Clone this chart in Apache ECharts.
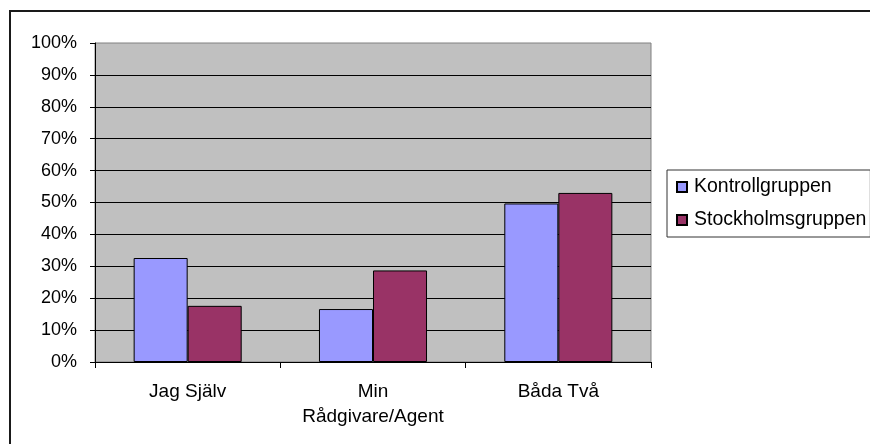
<!DOCTYPE html>
<html>
<head>
<meta charset="utf-8">
<script src="https://cdn.jsdelivr.net/npm/echarts@6/dist/echarts.min.js"></script>
<style>
  html, body { margin: 0; padding: 0; background: #ffffff; }
  #chart { width: 870px; height: 444px; }
</style>
</head>
<body>
<div id="chart"></div>
<script>
// Answer categories and share (%) per group
const categories = ['Jag Själv', 'Min\nRådgivare/Agent', 'Båda Två'];
const kontrollgruppen = [32.6, 16.6, 49.7];
const stockholmsgruppen = [17.6, 28.7, 53.0];
const seriesNames = ['Kontrollgruppen', 'Stockholmsgruppen'];
const yTicks = { min: 0, max: 100, step: 10 };

const FONT = '"Liberation Sans", Arial, sans-serif';

const chart = echarts.init(document.getElementById('chart'), null, { renderer: 'canvas' });

chart.setOption({
  backgroundColor: '#ffffff',
  animation: false,
  textStyle: { fontFamily: FONT, color: '#000' },
  graphic: [{
    type: 'rect',
    silent: true,
    z: 100,
    shape: { x: 10, y: 11, width: 900, height: 480 },
    style: { fill: null, stroke: '#1a1a1a', lineWidth: 2 }
  }],
  grid: {
    left: 95, top: 43, width: 556, height: 319,
    show: true,
    backgroundColor: '#C0C0C0',
    borderColor: '#808080',
    borderWidth: 1,
    containLabel: false
  },
  legend: {
    orient: 'vertical',
    left: 667, top: 170,
    data: seriesNames,
    icon: 'rect',
    itemWidth: 10, itemHeight: 10,
    itemGap: 13,
    padding: [7, 4, 7, 9],
    borderColor: '#333',
    borderWidth: 1,
    backgroundColor: '#fff',
    textStyle: { fontFamily: FONT, fontSize: 19.5, color: '#000', padding: [0, 0, 0, 2] }
  },
  xAxis: {
    type: 'category',
    data: categories,
    boundaryGap: true,
    axisLine: { show: true, lineStyle: { color: '#000', width: 1 } },
    axisTick: { show: true, alignWithLabel: false, length: 6, lineStyle: { color: '#000' } },
    axisLabel: { fontFamily: FONT, fontSize: 19, color: '#000', margin: 17, lineHeight: 25 },
    splitLine: { show: false }
  },
  yAxis: {
    type: 'value',
    min: yTicks.min, max: yTicks.max, interval: yTicks.step,
    axisLine: { show: true, lineStyle: { color: '#000', width: 1 } },
    axisTick: { show: true, inside: false, length: 5, lineStyle: { color: '#000' } },
    axisLabel: { fontFamily: FONT, fontSize: 18, color: '#000', margin: 18, formatter: '{value}%' },
    splitLine: { show: true, showMinLine: false, showMaxLine: false, lineStyle: { color: '#000', width: 1 } }
  },
  series: [
    {
      name: seriesNames[0],
      type: 'bar',
      data: kontrollgruppen,
      barGap: '0%',
      barCategoryGap: '41.7%',
      itemStyle: { color: '#9999FF', borderColor: '#000', borderWidth: 1 }
    },
    {
      name: seriesNames[1],
      type: 'bar',
      data: stockholmsgruppen,
      barGap: '0%',
      barCategoryGap: '41.7%',
      itemStyle: { color: '#993366', borderColor: '#000', borderWidth: 1 }
    }
  ]
});
</script>
</body>
</html>
